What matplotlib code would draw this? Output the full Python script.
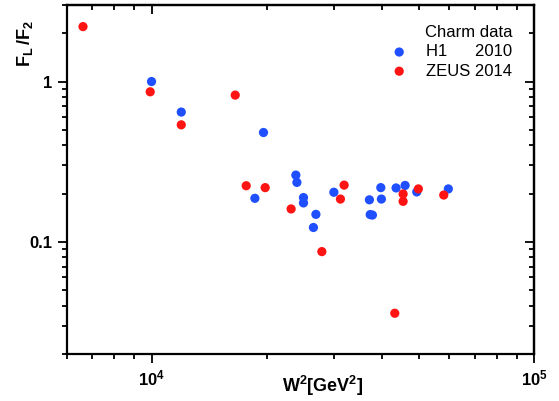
import numpy as np
import matplotlib
matplotlib.use('Agg')
import matplotlib.pyplot as plt

plt.rcParams['font.family'] = ['Liberation Sans', 'DejaVu Sans']
plt.rcParams['mathtext.fontset'] = 'custom'
plt.rcParams['mathtext.rm'] = 'Liberation Sans'
plt.rcParams['mathtext.bf'] = 'Liberation Sans:bold'

# H1 2010 charm data
h1_w2 = [10000, 11960, 19620, 18630, 23840, 23990, 24960, 24960, 26900, 26500,
         29970, 37120, 37300, 37800, 39760, 39900, 43590, 46020, 49370, 59700]
h1_ratio = [1.0, 0.645, 0.481, 0.187, 0.261, 0.235, 0.189, 0.175, 0.1485, 0.123,
            0.204, 0.183, 0.148, 0.147, 0.218, 0.185, 0.217, 0.225, 0.205, 0.214]

# ZEUS 2014 charm data
zeus_w2 = [6619, 9920, 11960, 16550, 17680, 19820, 23170, 31880, 31180, 27880,
           43250, 45470, 45470, 49850, 58080]
zeus_ratio = [2.20, 0.863, 0.537, 0.823, 0.224, 0.218, 0.1605, 0.226, 0.185, 0.087,
              0.0359, 0.199, 0.179, 0.214, 0.196]

blue = '#1f4fff'
red = '#ff1414'

fig = plt.figure(figsize=(5.59, 4.01), dpi=100)
ax = fig.add_axes([0.1193, 0.1172, 0.9553 - 0.1193, 0.9875 - 0.1172])

ax.scatter(h1_w2, h1_ratio, s=44, color=blue, edgecolors='none', label='H1      2010', zorder=3)
ax.scatter(zeus_w2, zeus_ratio, s=44, color=red, edgecolors='none', label='ZEUS 2014', zorder=3)

ax.set_xscale('log')
ax.set_yscale('log')
ax.set_xlim(6000, 1e5)
ax.set_ylim(0.02, 3)

ax.set_xticks([1e4, 1e5])
ax.set_xticklabels([r'$\mathbf{10^4}$', r'$\mathbf{10^5}$'], fontsize=12)
ax.set_yticks([0.1, 1])
ax.set_yticklabels(['0.1', '1'], fontsize=12, fontweight='bold')
ax.tick_params(which='major', length=6.5, width=1.3, direction='out', pad=4)
ax.tick_params(which='minor', length=3.5, width=1.3, direction='out')

for sp in ax.spines.values():
    sp.set_linewidth(1.6)

# mirrored ticks on top and right, pointing inward
top = ax.secondary_xaxis('top')
top.set_xticks([1e4, 1e5])
top.tick_params(which='major', length=6.5, width=1.3, direction='in', labeltop=False)
top.tick_params(which='minor', length=3.5, width=1.3, direction='in')
right = ax.secondary_yaxis('right')
right.set_yticks([0.1, 1])
right.tick_params(which='major', length=6.5, width=1.3, direction='in', labelright=False)
right.tick_params(which='minor', length=3.5, width=1.3, direction='in')
for a in (top, right):
    for sp in a.spines.values():
        sp.set_linewidth(1.6)

ax.text(0.547, -0.092, r'$\mathbf{W^2[GeV^2]}$', fontsize=13,
        transform=ax.transAxes, ha='center', va='center')
ax.text(-0.09, 0.89, r'$\mathbf{F_L\,/F_2}$', fontsize=13, rotation=90,
        transform=ax.transAxes, ha='center', va='center')

leg = ax.legend(title='Charm data', loc='upper right', bbox_to_anchor=(0.985, 0.985),
                frameon=False, fontsize=12, title_fontsize=12, handletextpad=0.6,
                labelspacing=0.25, markerscale=1.0)
leg._legend_box.align = 'right'

fig.savefig('out.png', dpi=100)
